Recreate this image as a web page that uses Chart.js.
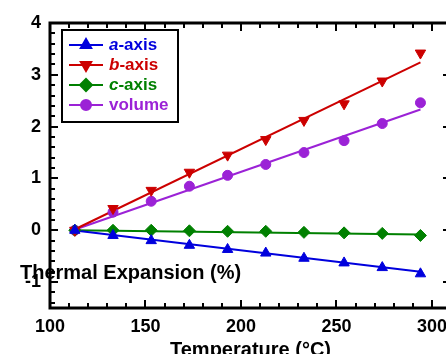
<!DOCTYPE html>
<html>
<head>
<meta charset="utf-8">
<script src="https://cdn.jsdelivr.net/npm/chart.js@4/dist/chart.umd.min.js"></script>
<style>
  html, body { margin: 0; padding: 0; overflow: hidden; background: #fff; }
  #wrap { width: 460px; height: 354px; }
</style>
</head>
<body>
<div id="wrap"><canvas id="expChart" width="460" height="354"></canvas></div>
<script>
// measured points (temperature in C, expansion in %)
var temps  = [113, 133, 153, 173, 193, 213, 233, 254, 274, 294];
var aAxis  = [0, -0.10, -0.20, -0.29, -0.37, -0.44, -0.54, -0.63, -0.72, -0.84];
var bAxis  = [0, 0.42, 0.77, 1.12, 1.45, 1.75, 2.12, 2.44, 2.88, 3.42];
var cAxis  = [0, 0, 0, -0.01, -0.02, -0.02, -0.04, -0.05, -0.06, -0.10];
var volume = [0, 0.35, 0.56, 0.85, 1.06, 1.27, 1.50, 1.73, 2.06, 2.46];

// linear fits (end points)
var fitX   = [112, 294];
var aFit   = [0, -0.80];
var bFit   = [0, 3.24];
var cFit   = [0, -0.08];
var volFit = [0, 2.33];

var xTicks = [100, 150, 200, 250, 300];
var yTicks = [-1, 0, 1, 2, 3, 4];

var labels = [
  { it: 'a', rest: '-axis', color: '#0000dd', style: 'triangle', rot: 0 },
  { it: 'b', rest: '-axis', color: '#cc0000', style: 'triangle', rot: 180 },
  { it: 'c', rest: '-axis', color: '#008000', style: 'rectRot', rot: 0 },
  { it: '',  rest: 'volume', color: '#9b22d6', style: 'circle', rot: 0 }
];

var FONT = '"Liberation Sans", Arial, sans-serif';

function pts(xv, yv) {
  return xv.map(function (x, i) { return { x: x, y: yv[i] }; });
}

var series = [aAxis, bAxis, cAxis, volume];
var fits = [aFit, bFit, cFit, volFit];
var datasets = [];
series.forEach(function (s, i) {
  var L = labels[i];
  datasets.push({
    label: (L.it + L.rest),
    data: pts(temps, s),
    showLine: false,
    pointStyle: L.style,
    rotation: L.rot,
    pointRadius: L.style === 'circle' ? 5 : 6,
    backgroundColor: L.color,
    borderColor: L.color,
    borderWidth: 1,
    order: 1
  });
  datasets.push({
    label: (L.it + L.rest) + ' fit',
    data: pts(fitX, fits[i]),
    showLine: true,
    pointRadius: 0,
    borderColor: L.color,
    borderWidth: 2,
    order: 2
  });
});

function line(ctx, x1, y1, x2, y2) {
  ctx.beginPath(); ctx.moveTo(x1, y1); ctx.lineTo(x2, y2); ctx.stroke();
}

var framePlugin = {
  id: 'framePlugin',
  afterDraw: function (chart) {
    var ctx = chart.ctx, a = chart.chartArea;
    var xs = chart.scales.x, ys = chart.scales.y;
    ctx.save();
    ctx.strokeStyle = '#000';
    ctx.lineWidth = 2;
    // inward ticks on all four sides
    for (var v = 110; v < 310; v += 10) {
      var px = Math.round(xs.getPixelForValue(v));
      var len = v % 50 === 0 ? 8 : 5;
      line(ctx, px, a.bottom, px, a.bottom - len);
      line(ctx, px, a.top, px, a.top + len);
    }
    for (var k = -7; k < 20; k++) {
      var py = Math.round(ys.getPixelForValue(k * 0.2));
      var ln = k % 5 === 0 ? 8 : 5;
      line(ctx, a.left, py, a.left + ln, py);
      line(ctx, a.right, py, a.right - ln, py);
    }
    ctx.lineWidth = 3;
    ctx.strokeRect(a.left, a.top, a.right - a.left, a.bottom - a.top);

    // legend box
    ctx.lineWidth = 2;
    ctx.strokeRect(62, 30, 116, 92);
    var rows = [45, 65, 85, 105];
    labels.forEach(function (L, i) {
      var y = rows[i];
      ctx.strokeStyle = L.color;
      ctx.fillStyle = L.color;
      ctx.lineWidth = 2;
      line(ctx, 69, y, 103, y);
      Chart.helpers.drawPoint(ctx, {
        pointStyle: L.style, rotation: L.rot,
        radius: L.style === 'circle' ? 5 : 6, borderWidth: 1
      }, 86, y);
      ctx.textBaseline = 'middle';
      ctx.textAlign = 'left';
      var tx = 109;
      if (L.it) {
        ctx.font = 'italic bold 17px ' + FONT;
        ctx.fillText(L.it, tx, y);
        tx += ctx.measureText(L.it).width;
      }
      ctx.font = 'bold 17px ' + FONT;
      ctx.fillText(L.rest, tx, y);
    });

    // axis titles
    ctx.fillStyle = '#000';
    ctx.textBaseline = 'alphabetic';
    ctx.font = 'bold 20px ' + FONT;
    ctx.textAlign = 'left';
    ctx.fillText('Thermal Expansion (%)', 20, 279);
    ctx.textAlign = 'center';
    ctx.fillText('Temperature (\u00B0C)', (a.left + a.right) / 2, 356);
    ctx.restore();
  }
};

var ctx = document.getElementById('expChart').getContext('2d');
var chart = new Chart(ctx, {
  type: 'scatter',
  data: { datasets: datasets },
  options: {
    responsive: false,
    animation: false,
    layout: { padding: { left: 0, top: 23, right: 9, bottom: 0 } },
    plugins: { legend: { display: false }, tooltip: { enabled: false } },
    scales: {
      x: {
        type: 'linear', min: 100, max: 310,
        afterBuildTicks: function (s) { s.ticks = xTicks.map(function (v) { return { value: v }; }); },
        afterFit: function (s) { s.height = 46; },
        grid: { display: false, drawTicks: false },
        border: { display: false },
        ticks: { color: '#000', font: { family: FONT, size: 18, weight: 'bold' }, padding: 8, maxRotation: 0, autoSkip: false }
      },
      y: {
        type: 'linear', min: -1.5, max: 4,
        afterBuildTicks: function (s) { s.ticks = yTicks.map(function (v) { return { value: v }; }); },
        afterFit: function (s) { s.width = 50; },
        grid: { display: false, drawTicks: false },
        border: { display: false },
        ticks: { color: '#000', font: { family: FONT, size: 18, weight: 'bold' }, padding: 9, autoSkip: false }
      }
    }
  },
  plugins: [framePlugin]
});
</script>
</body>
</html>
